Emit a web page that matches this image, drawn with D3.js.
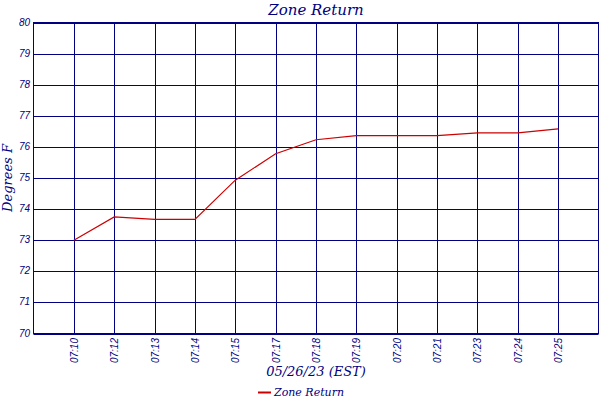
<!DOCTYPE html>
<html><head><meta charset="utf-8">
<script src="https://cdn.jsdelivr.net/npm/d3@7"></script>
<style>body{margin:0;background:#fff}svg{display:block}</style>
</head><body>
<svg id="c" width="600" height="400"></svg>
<script>
const categories = ["07:10","07:12","07:13","07:14","07:15","07:17","07:18","07:19","07:20","07:21","07:23","07:24","07:25"];
const zoneReturn = [73.0,73.75,73.67,73.67,74.93,75.78,76.23,76.36,76.36,76.36,76.45,76.45,76.58];
const yTicks = [70,71,72,73,74,75,76,77,78,79,80];
const title = "Zone Return";
const xTitle = "05/26/23 (EST)";
const yTitle = "Degrees F";

const navy = "#000080", red = "#cc0000";
const svg = d3.select("#c");
const L = 33.5, R = 598.5, T = 22.5, B = 333.5;
const x = d3.scalePoint().domain(categories).range([L, R]).padding(1);
const y = d3.scaleLinear().domain([70, 80]).range([B, T]);

// grid
const g = svg.append("g");
g.selectAll("line.h").data(yTicks).join("line")
  .attr("x1", L).attr("x2", R).attr("y1", d => Math.round(y(d)) + 0.5).attr("y2", d => Math.round(y(d)) + 0.5)
  .attr("stroke", navy).attr("stroke-width", 1);
g.selectAll("line.v").data(categories).join("line")
  .attr("x1", d => Math.round(x(d)) + 0.5).attr("x2", d => Math.round(x(d)) + 0.5).attr("y1", T).attr("y2", B)
  .attr("stroke", navy).attr("stroke-width", 1);
g.append("rect").attr("x", L).attr("y", T).attr("width", R - L).attr("height", B - T)
  .attr("fill", "none").attr("stroke", navy).attr("stroke-width", 1);

// y tick labels
svg.append("g").selectAll("text").data(yTicks).join("text")
  .attr("x", 30).attr("y", d => y(d) + 3)
  .attr("text-anchor", "end").attr("fill", navy)
  .style("font", "italic 10px 'Liberation Sans'")
  .text(d => d);

// x tick labels
svg.append("g").selectAll("text").data(categories).join("text")
  .attr("transform", d => `translate(${x(d) + 4},338) rotate(-90)`)
  .attr("text-anchor", "end").attr("fill", navy)
  .style("font", "italic 10px 'Liberation Sans'")
  .text(d => d);

// line
svg.append("path").datum(zoneReturn)
  .attr("fill", "none").attr("stroke", red).attr("stroke-width", 1.2)
  .attr("d", d3.line().x((d, i) => x(categories[i])).y(d => y(d)));

// titles
svg.append("text").attr("x", (L + R) / 2).attr("y", 15).attr("text-anchor", "middle")
  .attr("fill", navy).style("font", "italic 15px 'DejaVu Serif'").text(title);
svg.append("text").attr("x", (L + R) / 2).attr("y", 376).attr("text-anchor", "middle")
  .attr("fill", navy).style("font", "italic 13px 'DejaVu Serif'").text(xTitle);
svg.append("text").attr("transform", `translate(12,${(T + B) / 2}) rotate(-90)`).attr("text-anchor", "middle")
  .attr("fill", navy).style("font", "italic 13px 'DejaVu Serif'").text(yTitle);

// legend
svg.append("line").attr("x1", 258).attr("x2", 271).attr("y1", 392.5).attr("y2", 392.5)
  .attr("stroke", red).attr("stroke-width", 2);
svg.append("text").attr("x", 274).attr("y", 396).attr("fill", navy)
  .style("font", "italic 11px 'DejaVu Serif'").text("Zone Return");
</script>
</body></html>
